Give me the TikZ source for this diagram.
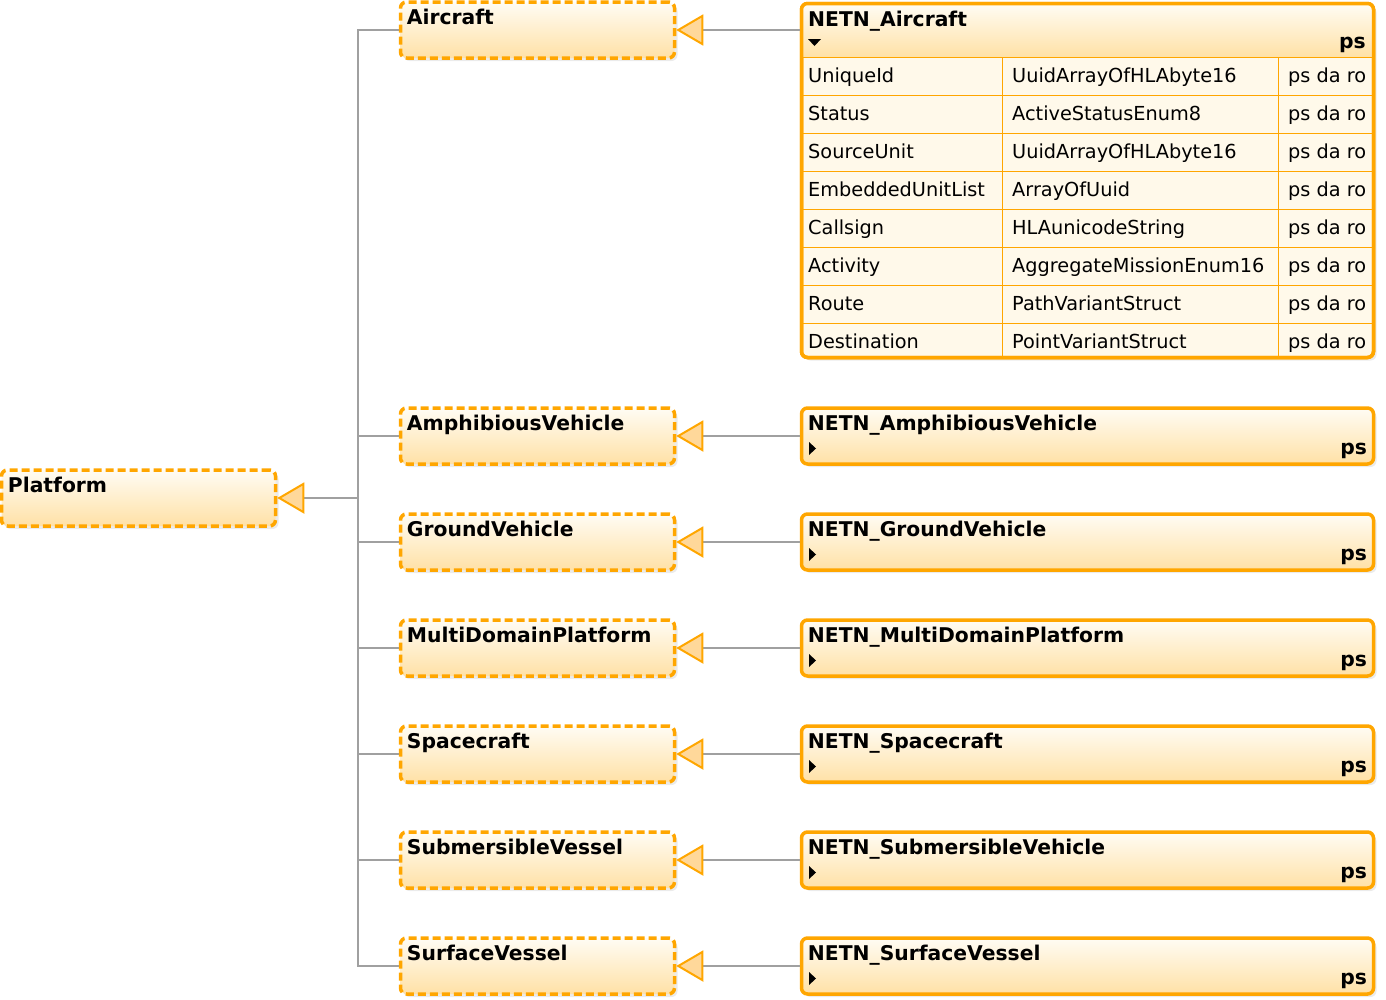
\documentclass[tikz,border=0pt]{standalone}
\usepackage{fontspec}
\setmainfont{DejaVu Sans}
\usetikzlibrary{arrows.meta,shadows}
\definecolor{boxorange}{HTML}{FFA600}
\definecolor{topfill}{HTML}{FFFCF4}
\definecolor{bottomfill}{HTML}{FFE1A6}
\definecolor{tipfill}{HTML}{FFD89A}
\definecolor{rowfill}{HTML}{FFF9EA}
\definecolor{linegray}{HTML}{A0A0A0}
\newcommand{\titlefont}{\fontsize{20.3}{24}\selectfont\bfseries}
\newcommand{\cellfont}{\fontsize{19.3}{23}\selectfont}
\begin{document}
\begin{tikzpicture}[x=1pt, y=-1pt,
	basebox/.style={draw=boxorange, line width=3.5pt, dash pattern=on 8pt off 4pt, rounded corners=6pt,
		top color=topfill, bottom color=bottomfill, minimum width=274pt, minimum height=56pt, inner sep=0pt,
		drop shadow={shadow xshift=3pt, shadow yshift=-3pt, opacity=0.16}},
	netnbox/.style={draw=boxorange, line width=3.5pt, rounded corners=6pt, minimum width=572pt, inner sep=0pt,
		drop shadow={shadow xshift=3pt, shadow yshift=-3pt, opacity=0.16}},
	netnclass/.style={netnbox, top color=topfill, bottom color=bottomfill, minimum height=56pt,
		label={[flaglabel]south east:ps}},
	titletext/.style={anchor=base west, inner sep=0pt, font=\titlefont},
	titlelabel/.style={titletext, xshift=8pt, yshift=-24pt},
	flagtext/.style={anchor=base east, inner sep=0pt, font=\titlefont},
	flaglabel/.style={flagtext, xshift=-8pt, yshift=11pt},
	celltext/.style={anchor=base west, inner sep=0pt, font=\cellfont},
	cellline/.style={draw=boxorange, line width=1pt},
	inherit/.style={draw=linegray, line width=1.8pt,
		-{Triangle[length=27pt, width=31pt, line width=2pt, fill=tipfill, color=boxorange]}},
	branch/.style={draw=linegray, line width=1.8pt}]
	\useasboundingbox (0,0) rectangle (1386,999);
	% base class
	\node[basebox, label={[titlelabel]north west:Platform}] (platform) at (138.5,498) {};
	% subclasses
	\node[basebox, label={[titlelabel]north west:Aircraft}] (aircraft) at (537.5,30) {};
	\node[basebox, label={[titlelabel]north west:AmphibiousVehicle}] (amphibious) at (537.5,436) {};
	\node[basebox, label={[titlelabel]north west:GroundVehicle}] (ground) at (537.5,542) {};
	\node[basebox, label={[titlelabel]north west:MultiDomainPlatform}] (multidomain) at (537.5,648) {};
	\node[basebox, label={[titlelabel]north west:Spacecraft}] (spacecraft) at (537.5,754) {};
	\node[basebox, label={[titlelabel]north west:SubmersibleVessel}] (submersible) at (537.5,860) {};
	\node[basebox, label={[titlelabel]north west:SurfaceVessel}] (surface) at (537.5,966) {};
	% NETN extensions
	\node[netnbox, fill=rowfill, minimum height=354pt] (netnaircraft) at (1087.5,180.5) {};
	\node[netnclass, label={[titlelabel]north west:NETN\_AmphibiousVehicle}] (netnamphibious) at (1087.5,436) {};
	\node[netnclass, label={[titlelabel]north west:NETN\_GroundVehicle}] (netnground) at (1087.5,542) {};
	\node[netnclass, label={[titlelabel]north west:NETN\_MultiDomainPlatform}] (netnmultidomain) at (1087.5,648) {};
	\node[netnclass, label={[titlelabel]north west:NETN\_Spacecraft}] (netnspacecraft) at (1087.5,754) {};
	\node[netnclass, label={[titlelabel]north west:NETN\_SubmersibleVehicle}] (netnsubmersible) at (1087.5,860) {};
	\node[netnclass, label={[titlelabel]north west:NETN\_SurfaceVessel}] (netnsurface) at (1087.5,966) {};
	% attribute table of NETN_Aircraft
	\shade[top color=topfill, bottom color=bottomfill, rounded corners=6pt] (801.5,57) -- (801.5,3.5) -- (1373.5,3.5) [sharp corners] -- (1373.5,57) -- cycle;
	\draw[cellline] (801.5,57) -- (1373.5,57);
	\draw[cellline] (801.5,95) -- (1373.5,95);
	\draw[cellline] (801.5,133) -- (1373.5,133);
	\draw[cellline] (801.5,171) -- (1373.5,171);
	\draw[cellline] (801.5,209) -- (1373.5,209);
	\draw[cellline] (801.5,247) -- (1373.5,247);
	\draw[cellline] (801.5,285) -- (1373.5,285);
	\draw[cellline] (801.5,323) -- (1373.5,323);
	\draw[cellline] (1002,57) -- (1002,357.5);
	\draw[cellline] (1278,57) -- (1278,357.5);
	\draw[boxorange, line width=3.5pt, rounded corners=6pt] (801.5,3.5) rectangle (1373.5,357.5);
	\node[titletext] (tnetnaircraft) at (808,26) {NETN\_Aircraft};
	\node[flagtext] (fnetnaircraft) at (1366,48) {ps};
	\node[celltext] (attr1) at (808,82) {UniqueId};
	\node[celltext] (type1) at (1012,82) {UuidArrayOfHLAbyte16};
	\node[celltext] (flag1) at (1288,82) {ps da ro};
	\node[celltext] (attr2) at (808,120) {Status};
	\node[celltext] (type2) at (1012,120) {ActiveStatusEnum8};
	\node[celltext] (flag2) at (1288,120) {ps da ro};
	\node[celltext] (attr3) at (808,158) {SourceUnit};
	\node[celltext] (type3) at (1012,158) {UuidArrayOfHLAbyte16};
	\node[celltext] (flag3) at (1288,158) {ps da ro};
	\node[celltext] (attr4) at (808,196) {EmbeddedUnitList};
	\node[celltext] (type4) at (1012,196) {ArrayOfUuid};
	\node[celltext] (flag4) at (1288,196) {ps da ro};
	\node[celltext] (attr5) at (808,234) {Callsign};
	\node[celltext] (type5) at (1012,234) {HLAunicodeString};
	\node[celltext] (flag5) at (1288,234) {ps da ro};
	\node[celltext] (attr6) at (808,272) {Activity};
	\node[celltext] (type6) at (1012,272) {AggregateMissionEnum16};
	\node[celltext] (flag6) at (1288,272) {ps da ro};
	\node[celltext] (attr7) at (808,310) {Route};
	\node[celltext] (type7) at (1012,310) {PathVariantStruct};
	\node[celltext] (flag7) at (1288,310) {ps da ro};
	\node[celltext] (attr8) at (808,348) {Destination};
	\node[celltext] (type8) at (1012,348) {PointVariantStruct};
	\node[celltext] (flag8) at (1288,348) {ps da ro};
	% expand markers
	\fill (808,39) -- (821,39) -- (814.5,46) -- cycle;
	\fill (809,442) -- (809,455) -- (816,448.5) -- cycle;
	\fill (809,548) -- (809,561) -- (816,554.5) -- cycle;
	\fill (809,654) -- (809,667) -- (816,660.5) -- cycle;
	\fill (809,760) -- (809,773) -- (816,766.5) -- cycle;
	\fill (809,866) -- (809,879) -- (816,872.5) -- cycle;
	\fill (809,972) -- (809,985) -- (816,978.5) -- cycle;
	% generalisations
	\coordinate (trunk) at (358,498);
	\draw[inherit] (trunk) -- (platform.east);
	\draw[branch] (aircraft.west) -| (trunk);
	\draw[branch] (amphibious.west) -| (trunk);
	\draw[branch] (ground.west) -| (trunk);
	\draw[branch] (multidomain.west) -| (trunk);
	\draw[branch] (spacecraft.west) -| (trunk);
	\draw[branch] (submersible.west) -| (trunk);
	\draw[branch] (surface.west) -| (trunk);
	\draw[inherit] (netnaircraft.west |- aircraft.east) -- (aircraft.east);
	\draw[inherit] (netnamphibious.west) -- (amphibious.east);
	\draw[inherit] (netnground.west) -- (ground.east);
	\draw[inherit] (netnmultidomain.west) -- (multidomain.east);
	\draw[inherit] (netnspacecraft.west) -- (spacecraft.east);
	\draw[inherit] (netnsubmersible.west) -- (submersible.east);
	\draw[inherit] (netnsurface.west) -- (surface.east);
\end{tikzpicture}
\end{document}
